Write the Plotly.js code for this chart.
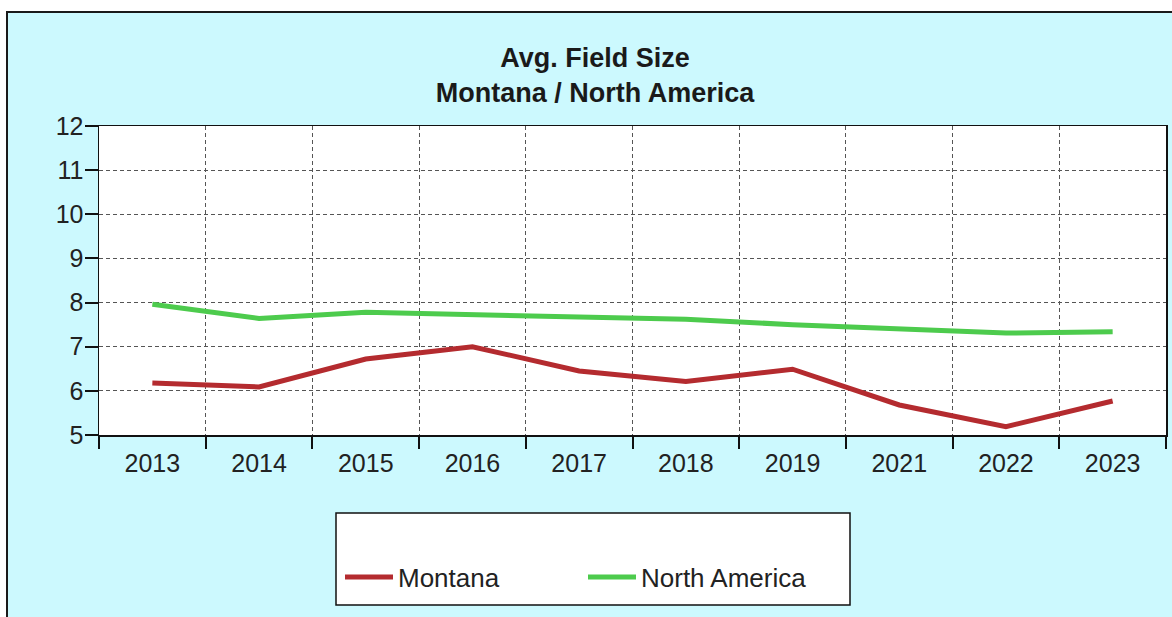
<!DOCTYPE html>
<html>
<head>
<meta charset="utf-8">
<script src="https://cdn.plot.ly/plotly-3.0.1.min.js"></script>
<style>
  html, body { margin: 0; padding: 0; background: #ffffff; }
  #chart { width: 1172px; height: 617px; }
</style>
</head>
<body>
<div id="chart"></div>
<script>
const years = ['2013', '2014', '2015', '2016', '2017', '2018', '2019', '2021', '2022', '2023'];
const montana = [6.18, 6.09, 6.72, 7.0, 6.45, 6.21, 6.49, 5.68, 5.19, 5.77];
const northAmerica = [7.96, 7.64, 7.78, 7.73, 7.68, 7.62, 7.5, 7.41, 7.31, 7.34];
const seriesNames = ['Montana', 'North America'];
const titleLines = ['Avg. Field Size', 'Montana / North America'];

const FONT = 'Liberation Sans, Arial, sans-serif';
const CYAN = '#CCF9FE';

// plot area in pixels: x 99..1166, y 126..435
const L = 99, R = 6, T = 126, B = 182;
const W = 1172, H = 617;
const pw = W - L - R, ph = H - T - B;
const px = x => (x - L) / pw;
const py = y => (H - B - y) / ph;

const traces = [
  {
    x: years, y: montana, name: seriesNames[0], type: 'scatter', mode: 'lines',
    line: { color: '#B42B2F', width: 5 }
  },
  {
    x: years, y: northAmerica, name: seriesNames[1], type: 'scatter', mode: 'lines',
    line: { color: '#4DCB4D', width: 5 }
  }
];

const layout = {
  width: W, height: H,
  margin: { l: L, r: R, t: T, b: B, pad: 0 },
  paper_bgcolor: '#ffffff',
  plot_bgcolor: 'rgba(0,0,0,0)',
  font: { family: FONT, color: '#222222', size: 25 },
  title: {
    text: '<b>' + titleLines.join('<br>') + '</b>',
    font: { family: FONT, size: 27, color: '#1a1a1a' },
    xref: 'paper', x: px(595), xanchor: 'center',
    yref: 'container', y: 1 - 67 / H, yanchor: 'middle'
  },
  showlegend: true,
  legend: {
    orientation: 'h',
    xref: 'paper', yref: 'paper',
    x: px(340), xanchor: 'left',
    y: py(577), yanchor: 'middle',
    bgcolor: 'rgba(0,0,0,0)', borderwidth: 0,
    font: { family: FONT, size: 26, color: '#222222' },
    entrywidth: 180, entrywidthmode: 'pixels',
    itemwidth: 48
  },
  xaxis: {
    type: 'category',
    categoryorder: 'array', categoryarray: years,
    range: [-0.5, years.length - 0.5],
    tickson: 'boundaries',
    ticks: 'outside', ticklen: 12, tickwidth: 2, tickcolor: '#111111',
    ticklabelstandoff: 5,
    showline: true, linecolor: '#111111', linewidth: 1.5, mirror: true,
    showgrid: true, gridcolor: '#555555', gridwidth: 1, griddash: '4px,3px',
    zeroline: false,
    tickfont: { family: FONT, size: 25, color: '#222222' },
    fixedrange: true
  },
  yaxis: {
    range: [5, 12], dtick: 1, tick0: 5,
    ticks: 'outside', ticklen: 13, tickwidth: 2, tickcolor: '#111111',
    ticklabelstandoff: -4,
    showline: true, linecolor: '#111111', linewidth: 1.5, mirror: true,
    showgrid: true, gridcolor: '#555555', gridwidth: 1, griddash: '4px,3px',
    zeroline: false,
    tickfont: { family: FONT, size: 25, color: '#222222' },
    fixedrange: true
  },
  shapes: [
    { type: 'rect', xref: 'paper', yref: 'paper', layer: 'below',
      x0: px(7), x1: px(1185), y0: py(630), y1: py(12),
      fillcolor: CYAN, line: { color: '#1a1a1a', width: 2 } },
    { type: 'rect', xref: 'paper', yref: 'paper', layer: 'below',
      x0: 0, x1: 1, y0: 0, y1: 1,
      fillcolor: '#ffffff', line: { width: 0 } },
    { type: 'rect', xref: 'paper', yref: 'paper', layer: 'below',
      x0: px(336), x1: px(850), y0: py(605), y1: py(513),
      fillcolor: '#ffffff', line: { color: '#111111', width: 1.5 } }
  ]
};

Plotly.newPlot('chart', traces, layout, { displayModeBar: false, staticPlot: true });
</script>
</body>
</html>
